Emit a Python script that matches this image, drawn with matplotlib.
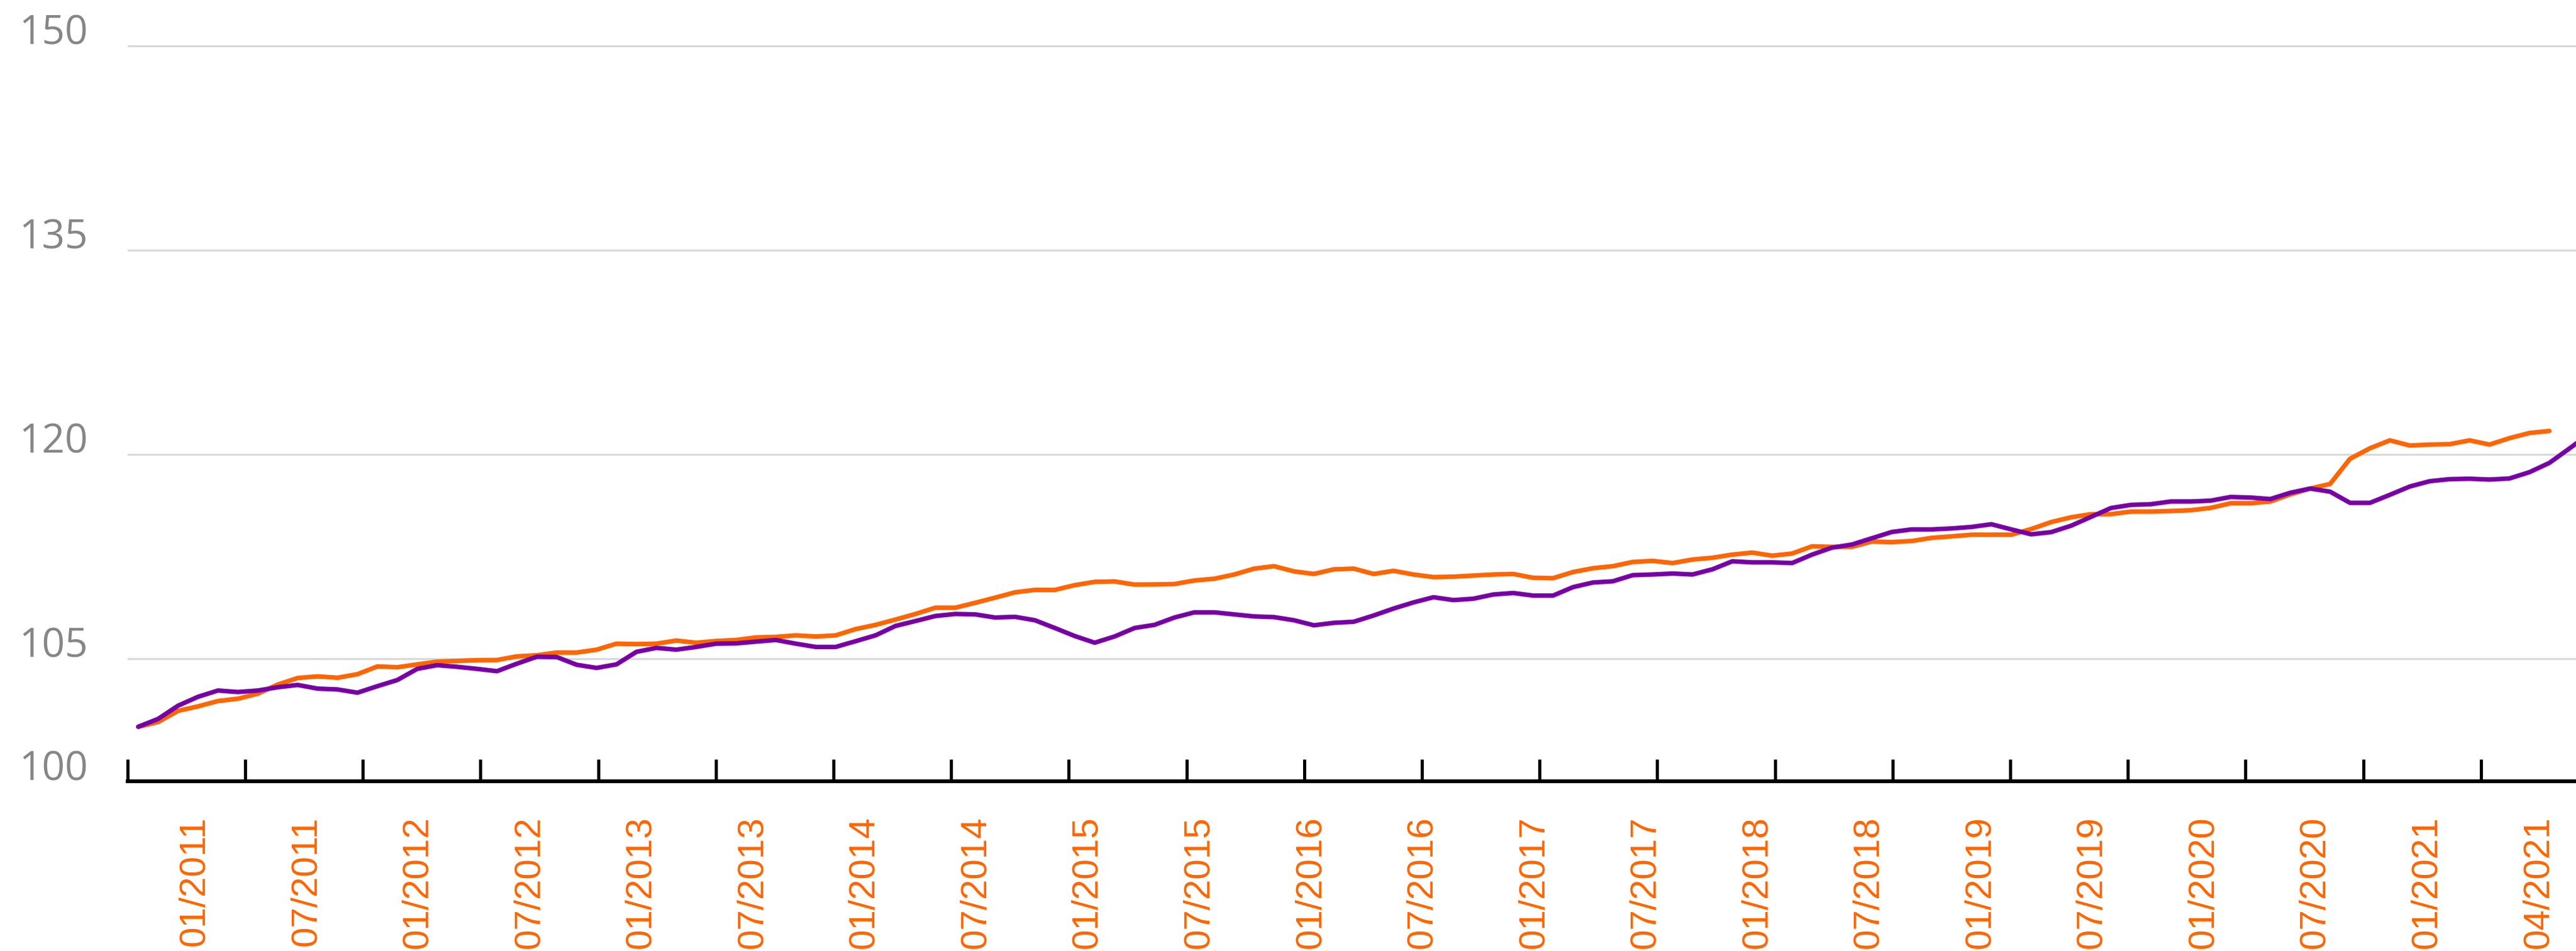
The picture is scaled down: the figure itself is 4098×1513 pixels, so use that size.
import numpy as np
import matplotlib.pyplot as plt
from matplotlib.transforms import blended_transform_factory

# monthly index values, 01/2011 = 100
orange_vals = [100.0, 100.35, 101.17, 101.5, 101.89, 102.06, 102.43, 103.1, 103.58, 103.7,
               103.6, 103.86, 104.43, 104.37, 104.58, 104.78, 104.83, 104.89, 104.9, 105.17,
               105.25, 105.45, 105.45, 105.66, 106.1, 106.07, 106.1, 106.33, 106.17, 106.3,
               106.37, 106.56, 106.6, 106.71, 106.63, 106.71, 107.17, 107.48, 107.87, 108.28,
               108.74, 108.74, 109.1, 109.48, 109.87, 110.05, 110.05, 110.4, 110.64, 110.67,
               110.44, 110.45, 110.48, 110.74, 110.87, 111.18, 111.61, 111.79, 111.41, 111.22,
               111.56, 111.61, 111.22, 111.45, 111.18, 110.99, 111.02, 111.1, 111.18, 111.22,
               110.94, 110.91, 111.36, 111.64, 111.79, 112.1, 112.18, 112.02, 112.28, 112.41,
               112.64, 112.79, 112.56, 112.72, 113.25, 113.21, 113.21, 113.6, 113.56, 113.64,
               113.87, 113.98, 114.1, 114.1, 114.1, 114.52, 115.03, 115.38, 115.61, 115.61,
               115.8, 115.8, 115.84, 115.9, 116.07, 116.41, 116.41, 116.54, 117.06, 117.49,
               117.83, 119.68, 120.45, 121.03, 120.65, 120.72, 120.75, 121.03, 120.72, 121.19,
               121.57, 121.72]

purple_vals = [100.0, 100.58, 101.55, 102.2, 102.66, 102.55, 102.66, 102.9, 103.07, 102.8,
               102.74, 102.5, 102.98, 103.43, 104.25, 104.52, 104.4, 104.25, 104.08, 104.63,
               105.14, 105.12, 104.55, 104.32, 104.58, 105.5, 105.79, 105.66, 105.86, 106.1,
               106.12, 106.25, 106.37, 106.1, 105.86, 105.86, 106.28, 106.71, 107.4, 107.76,
               108.13, 108.28, 108.25, 108.02, 108.07, 107.82, 107.25, 106.66, 106.17, 106.63,
               107.25, 107.48, 108.02, 108.4, 108.4, 108.25, 108.1, 108.05, 107.82, 107.45,
               107.63, 107.71, 108.17, 108.68, 109.13, 109.51, 109.3, 109.4, 109.71, 109.82,
               109.63, 109.63, 110.25, 110.59, 110.68, 111.13, 111.18, 111.25, 111.18, 111.56,
               112.15, 112.07, 112.07, 112.02, 112.64, 113.15, 113.38, 113.84, 114.3, 114.49,
               114.49, 114.56, 114.67, 114.87, 114.49, 114.13, 114.29, 114.76, 115.41, 116.06,
               116.29, 116.34, 116.54, 116.54, 116.6, 116.87, 116.83, 116.72, 117.18, 117.49,
               117.26, 116.44, 116.44, 117.03, 117.64, 118.03, 118.18, 118.21, 118.15, 118.23,
               118.69, 119.37, 120.42, 121.5]

date_labels = ['01/2011', '07/2011', '01/2012', '07/2012', '01/2013', '07/2013',
               '01/2014', '07/2014', '01/2015', '07/2015', '01/2016', '07/2016',
               '01/2017', '07/2017', '01/2018', '07/2018', '01/2019', '07/2019',
               '01/2020', '07/2020', '01/2021', '04/2021']
y_labels = [105, 120, 135, 150]
base_label = '100'

orange = '#FF6600'
purple = '#7700A3'
grey = '#868686'

fig = plt.figure(figsize = (40.98, 15.13), dpi = 100)
ax = fig.add_axes([0.0495, 0.1785, 0.9505, 0.8215])

ax.plot(np.arange(len(orange_vals)), orange_vals, color = orange, lw = 5.2,
        solid_capstyle = 'round', solid_joinstyle = 'round', zorder = 3)
ax.plot(np.arange(len(purple_vals)), purple_vals, color = purple, lw = 5.2,
        solid_capstyle = 'round', solid_joinstyle = 'round', zorder = 4)

ax.set_xlim(-0.54, 122.34)
ax.set_ylim(96, 153.36)

# gridlines + manual y labels sitting on top of them
ax.set_yticks(y_labels)
ax.yaxis.grid(True, color = '#d9d9d9', lw = 2.2)
ax.set_axisbelow(True)
ax.tick_params(axis = 'y', left = False, labelleft = False)
trans = blended_transform_factory(fig.transFigure, ax.transData)
for v in y_labels:
    ax.text(0.0342, v + 0.1, str(v), transform = trans, ha = 'right', va = 'baseline',
            fontsize = 46, color = grey, family = 'Open Sans', clip_on = False)
fig.text(0.0342, 1 - 1242 / 1513, base_label, ha = 'right', va = 'baseline',
         fontsize = 46, color = grey, family = 'Open Sans')

for s in ['top', 'left', 'right']:
    ax.spines[s].set_visible(False)
ax.spines['bottom'].set_color('black')
ax.spines['bottom'].set_linewidth(4.3)

# tick marks and date labels are spaced independently
ax.set_xticks(np.linspace(-0.54, 117.57, 21))
ax.set_xticks(np.linspace(2.82, 120.44, len(date_labels)), minor = True)
ax.set_xticklabels(date_labels, minor = True, rotation = 90, fontsize = 42,
                   color = orange, family = 'Liberation Sans')
ax.tick_params(axis = 'x', which = 'major', direction = 'in', length = 25, width = 3.6,
               color = 'black', labelbottom = False)
ax.tick_params(axis = 'x', which = 'minor', length = 0, pad = 40)

plt.savefig('out.png', dpi = 100)
